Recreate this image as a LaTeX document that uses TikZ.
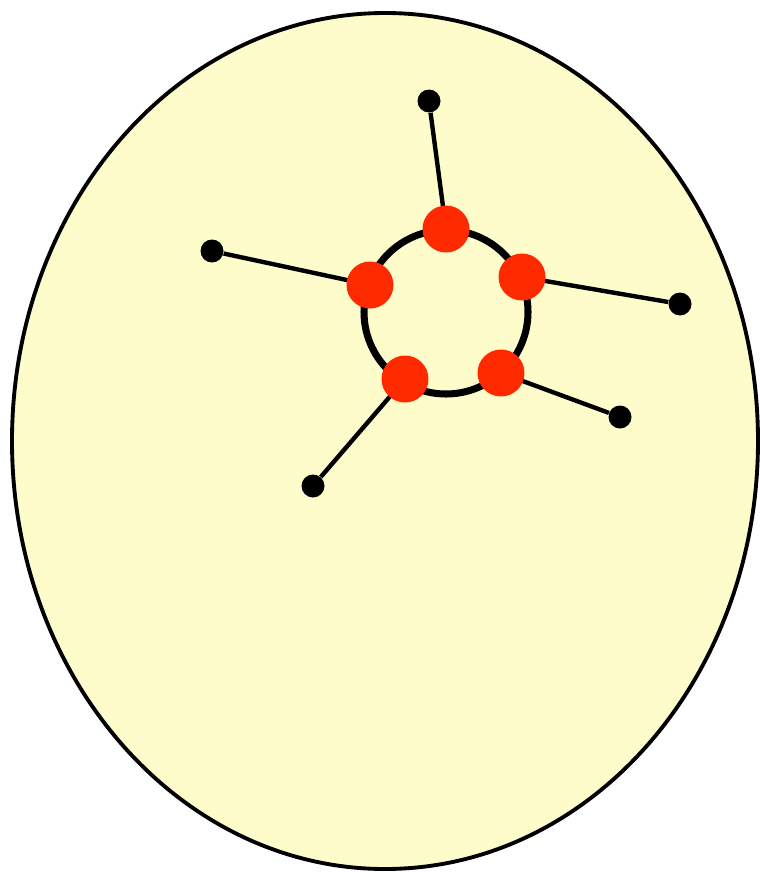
\documentclass[tikz,border=0pt]{standalone}
\usepackage{tikz}

\definecolor{cellfill}{HTML}{FFFCCC}
\definecolor{siteRed}{HTML}{FF2A00}

\begin{document}
\begin{tikzpicture}[
    x=0.02cm, y=-0.02cm,
    cell/.style={draw=black, line width=2.2pt, fill=cellfill},
    ring/.style={draw=black, line width=4pt},
    site/.style={circle, fill=siteRed, minimum size=0.94cm, inner sep=0pt},
    tip/.style={circle, fill=black, minimum size=0.46cm, inner sep=0pt},
    spoke/.style={draw=black, line width=2.5pt}
]
    \useasboundingbox (0,0) rectangle (760,872);

    % cell body and central ring
    \draw[cell] (385,441) ellipse [x radius=373, y radius=428];
    \draw[ring] (446,312) circle [radius=82];

    % ends of the arms
    \node[tip] (t1) at (429,101) {};
    \node[tip] (t2) at (212,251) {};
    \node[tip] (t3) at (680,304) {};
    \node[tip] (t4) at (620,417) {};
    \node[tip] (t5) at (313,486) {};

    % sites on the ring
    \coordinate (s1) at (446,229);
    \coordinate (s2) at (370,285);
    \coordinate (s3) at (522,277);
    \coordinate (s4) at (501,373);
    \coordinate (s5) at (405,379);

    % arms
    \draw[spoke] (s1) -- (t1);
    \draw[spoke] (s2) -- (t2);
    \draw[spoke] (s3) -- (t3);
    \draw[spoke] (s4) -- (t4);
    \draw[spoke] (s5) -- (t5);

    \foreach \s in {s1,s2,s3,s4,s5}
        \node[site] at (\s) {};
\end{tikzpicture}
\end{document}
